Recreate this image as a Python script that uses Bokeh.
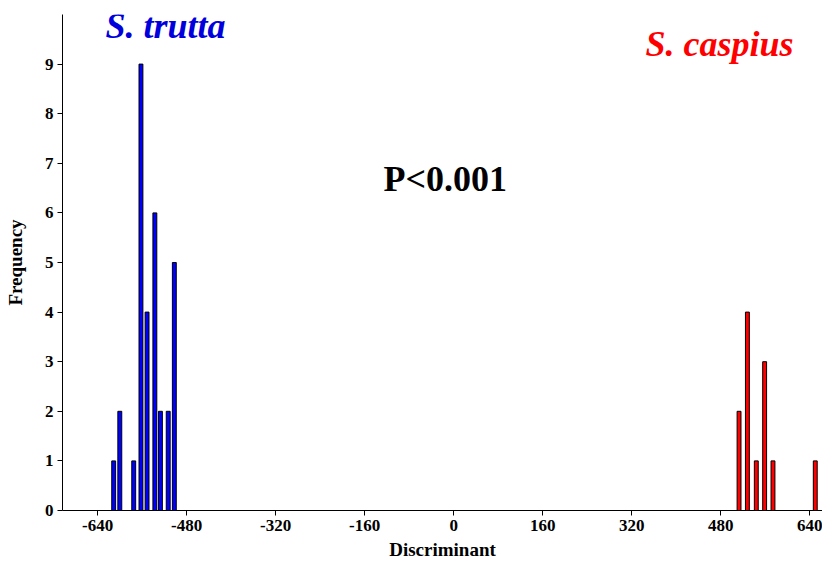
from bokeh.plotting import figure
from bokeh.models import Label, FixedTicker, Range1d
from bokeh.embed import file_html
from bokeh.resources import INLINE

# Data
trutta_x = [-611, -600, -575, -562, -551, -537, -527, -513, -502]
trutta_freq = [1, 2, 1, 9, 4, 6, 2, 2, 5]
caspius_x = [513, 528, 544, 559, 574, 650]
caspius_freq = [2, 4, 1, 3, 1, 1]
x_ticks = [-640, -480, -320, -160, 0, 160, 320, 480, 640]
x_tick_labels = ["-640", "-480", "-320", "-160", "0", "160", "320", "480", "640"]
y_ticks = list(range(0, 10))

FONT = "Liberation Serif"

p = figure(width=822, height=562, output_backend="svg", toolbar_location=None,
           x_range=Range1d(-703, 663), y_range=Range1d(0, 10),
           min_border_left=62, min_border_right=0, min_border_top=14, min_border_bottom=30)
p.outline_line_color = None
p.xgrid.visible = False
p.ygrid.visible = False

p.vbar(x=trutta_x, top=trutta_freq, bottom=0, width=7, fill_color="#0000ff", line_color="black", line_width=1)
p.vbar(x=caspius_x, top=caspius_freq, bottom=0, width=7, fill_color="#ff0000", line_color="black", line_width=1)

p.xaxis.ticker = FixedTicker(ticks=x_ticks)
p.xaxis.major_label_overrides = {t: s for t, s in zip(x_ticks, x_tick_labels)}
p.yaxis.ticker = FixedTicker(ticks=y_ticks)
for ax in (p.xaxis, p.yaxis):
    ax.axis_line_color = "black"
    ax.major_tick_line_color = "black"
    ax.minor_tick_line_color = None
    ax.major_label_text_font = FONT
    ax.major_label_text_font_style = "bold"
    ax.major_label_text_font_size = "17px"
    ax.major_label_text_color = "black"
    ax.major_label_standoff = 4
    ax.axis_label_text_font = FONT
    ax.axis_label_text_font_style = "bold"
    ax.axis_label_text_font_size = "19px"
    ax.axis_label_text_color = "black"
    ax.major_tick_in = 0
    ax.major_tick_out = 5

p.xaxis.axis_label = "Discriminant"
p.yaxis.axis_label = "Frequency"
p.xaxis.axis_label_standoff = 5
p.yaxis.axis_label_standoff = 16

p.add_layout(Label(x=-518, y=9.76, text="S. trutta", text_font=FONT, text_font_style="bold italic",
                   text_font_size="36px", text_color="#0000dd", text_align="center", text_baseline="middle"))
p.add_layout(Label(x=478, y=9.4, text="S. caspius", text_font=FONT, text_font_style="bold italic",
                   text_font_size="36px", text_color="#ff0000", text_align="center", text_baseline="middle"))
p.add_layout(Label(x=-15, y=6.69, text="P<0.001", text_font=FONT, text_font_style="bold",
                   text_font_size="36px", text_color="black", text_align="center", text_baseline="middle"))

open("out.html", "w").write(file_html(p, INLINE))
